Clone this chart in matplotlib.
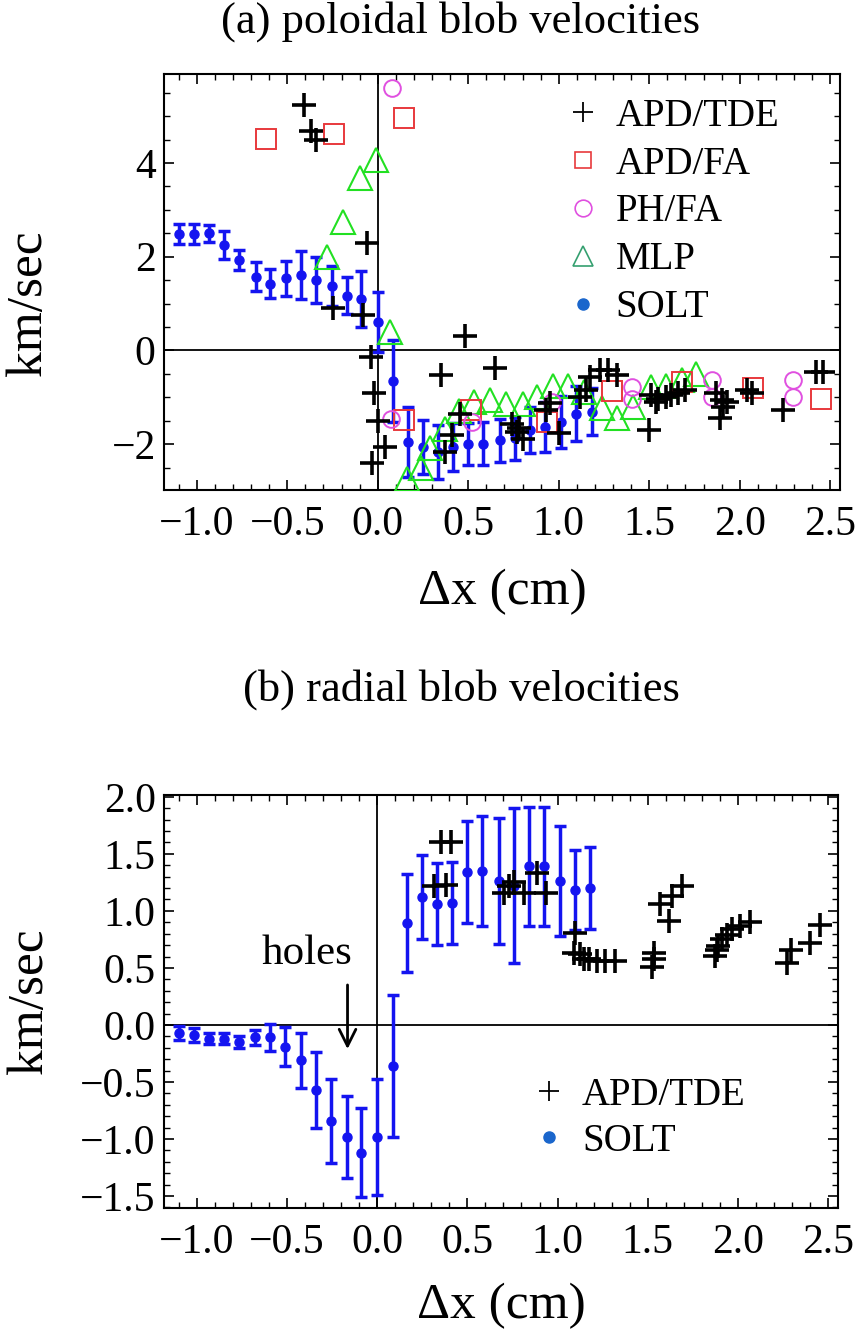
import numpy as np
import matplotlib
matplotlib.use("Agg")
import matplotlib.pyplot as plt
from matplotlib.lines import Line2D
from matplotlib.ticker import MultipleLocator

plt.rcParams['font.family'] = ['Liberation Serif', 'DejaVu Serif']

# SOLT simulation points (same radial grid in both panels)
solt_x = [-1.097, -1.016, -0.931, -0.848, -0.766, -0.674, -0.593, -0.508, -0.422,
          -0.340, -0.254, -0.168, -0.090, 0.002, 0.086, 0.167, 0.249, 0.332,
          0.416, 0.498, 0.583, 0.674, 0.758, 0.841, 0.924, 1.012, 1.097, 1.182]
solt_vpol = [2.49, 2.49, 2.50, 2.25, 1.93, 1.57, 1.42, 1.54, 1.61, 1.50, 1.38, 1.17,
             1.09, 0.61, -0.65, -1.96, -2.06, -2.17, -2.06, -1.99, -1.99, -1.92,
             -1.88, -1.70, -1.63, -1.53, -1.35, -1.31]
solt_vpol_err = [0.21, 0.21, 0.18, 0.30, 0.22, 0.31, 0.31, 0.37, 0.52, 0.49, 0.43,
                 0.40, 0.60, 0.64, 0.87, 0.75, 0.57, 0.57, 0.52, 0.45, 0.46, 0.46,
                 0.46, 0.50, 0.53, 0.55, 0.59, 0.50]
solt_vrad = [-0.07, -0.09, -0.12, -0.12, -0.15, -0.11, -0.11, -0.19, -0.31, -0.57,
             -0.84, -0.98, -1.12, -0.98, -0.36, 0.89, 1.12, 1.06, 1.07, 1.34, 1.35,
             1.26, 1.22, 1.39, 1.39, 1.26, 1.18, 1.20]
solt_vrad_err = [0.06, 0.06, 0.05, 0.05, 0.05, 0.07, 0.12, 0.17, 0.24, 0.33, 0.37,
                 0.36, 0.39, 0.51, 0.62, 0.43, 0.37, 0.36, 0.36, 0.45, 0.48, 0.55,
                 0.68, 0.52, 0.52, 0.48, 0.35, 0.36]

# (a) poloidal: APD/TDE
tde_pol_x = [-0.41, -0.37, -0.34, -0.25, -0.06, -0.08, -0.04, -0.02, 0.00, 0.04, -0.03,
             0.48, 0.35, 0.65, 0.455, 0.41, 0.37,
             0.74, 0.77, 0.80, 0.78, 0.95, 1.00, 0.93,
             1.12, 1.15, 1.17, 1.23, 1.27, 1.32,
             1.50, 1.51, 1.55, 1.59, 1.62, 1.66, 1.70, 1.54,
             1.87, 1.90, 1.91, 1.89, 1.93, 2.04, 2.07, 2.24, 2.42, 2.46]
tde_pol_y = [5.23, 4.69, 4.49, 0.90, 2.30, 0.75, -0.14, -0.91, -1.50, -2.06, -2.41,
             0.31, -0.52, -0.38, -1.35, -1.81, -2.17,
             -1.58, -1.75, -1.90, -1.65, -1.13, -1.77, -1.28,
             -0.99, -0.85, -0.56, -0.42, -0.42, -0.53,
             -1.70, -0.96, -1.03, -0.99, -0.96, -0.92, -0.85, -1.10,
             -0.92, -1.06, -1.20, -1.45, -1.10, -0.85, -0.92, -1.28, -0.46, -0.46]

# (a) poloidal: APD/FA
fa_x = [-0.62, -0.24, 0.145, 0.145, 0.517, 0.934, 1.294, 1.68, 2.075, 2.45]
fa_y = [4.51, 4.62, 4.96, -1.49, -1.28, -1.53, -0.87, -0.67, -0.80, -1.03]

# (a) poloidal: PH/FA
ph_x = [0.077, 0.075, 0.519, 0.965, 1.403, 1.403, 1.845, 1.845, 2.296, 2.296]
ph_y = [5.60, -1.47, -1.52, -1.11, -0.78, -1.03, -0.63, -0.99, -0.63, -0.99]

# (a) poloidal: MLP
mlp_x = [-0.28, -0.19, -0.10, -0.01, 0.07, 0.16, 0.24, 0.29, 0.37, 0.45, 0.53, 0.62,
         0.71, 0.80, 0.88, 0.97, 1.05, 1.14, 1.24, 1.32, 1.41, 1.51, 1.59, 1.68, 1.76]
mlp_y = [2.00, 2.75, 3.67, 4.07, 0.40, -2.75, -2.50, -2.09, -1.67, -1.30, -1.10, -1.06,
         -1.15, -1.15, -1.00, -0.76, -0.76, -0.88, -1.24, -1.44, -1.20, -0.78, -0.76,
         -0.63, -0.51]

# (b) radial: APD/TDE
tde_rad_x = [0.353, 0.409, 0.317, 0.381,
             0.703, 0.731, 0.759, 0.814, 0.887, 0.934,
             1.099, 1.090, 1.127, 1.145, 1.173, 1.220, 1.265, 1.320,
             1.532, 1.532, 1.523, 1.569, 1.633, 1.688, 1.615,
             1.873, 1.882, 1.891, 1.909, 1.940, 1.965, 2.011, 2.066,
             2.269, 2.296, 2.398, 2.453]
tde_rad_y = [1.60, 1.60, 1.22, 1.23,
             1.16, 1.22, 1.25, 1.16, 1.33, 1.16,
             0.81, 0.63, 0.62, 0.58, 0.58, 0.56, 0.56, 0.56,
             0.63, 0.58, 0.51, 1.06, 1.13, 1.22, 0.91,
             0.605, 0.66, 0.69, 0.75, 0.79, 0.84, 0.87, 0.905,
             0.54, 0.66, 0.72, 0.875]

BLUE = '#1414f0'
RED = '#e8393c'
MAG = '#e050e0'
GREEN = '#22e022'


def style_axes(ax, ymajor, yminor):
    ax.set_xlim(-1.181, 2.554)
    ax.xaxis.set_major_locator(MultipleLocator(0.5))
    ax.xaxis.set_minor_locator(MultipleLocator(0.1))
    ax.yaxis.set_major_locator(MultipleLocator(ymajor))
    ax.yaxis.set_minor_locator(MultipleLocator(yminor))
    ax.tick_params(which='both', direction='in', top=True, right=True, labelsize=30)
    ax.tick_params(which='major', length=7, width=1.2)
    ax.tick_params(which='minor', length=4, width=1.0)
    ax.tick_params(axis='x', pad=11)
    ax.tick_params(axis='y', pad=6)
    for sp in ax.spines.values():
        sp.set_linewidth(1.5)
    ax.axhline(0, color='k', lw=1.3, zorder=1)
    ax.axvline(0, color='k', lw=1.3, zorder=1)
    ax.set_xlabel('\u0394x (cm)', fontsize=37)
    ax.set_ylabel('km/sec', fontsize=37)


def solt_errorbar(ax, y, err):
    ax.errorbar(solt_x, y, yerr=err, fmt='o', color=BLUE, ms=6.5, elinewidth=2.5,
                capsize=4, capthick=2.5, zorder=2)


fig = plt.figure(figsize=(8.56, 13.35), dpi=100)

# ---- (a) poloidal blob velocities
ax1 = fig.add_axes([164 / 856, 1 - 490 / 1335, 676 / 856, 416 / 1335])
solt_errorbar(ax1, solt_vpol, solt_vpol_err)
ax1.plot(mlp_x, mlp_y, ls='none', marker='^', ms=17, mfc='none', mec=GREEN, mew=1.5, zorder=3)
ax1.plot(fa_x, fa_y, ls='none', marker='s', ms=14, mfc='none', mec=RED, mew=1.4, zorder=3)
ax1.plot(ph_x, ph_y, ls='none', marker='o', ms=12, mfc='none', mec=MAG, mew=1.4, zorder=3)
ax1.plot(tde_pol_x, tde_pol_y, ls='none', marker='+', ms=17, color='k', mew=2.6, zorder=4)
ax1.set_ylim(-2.98, 5.90)
style_axes(ax1, 2, 0.5)
ax1.xaxis.set_label_coords(0.5, -0.19)
ax1.yaxis.set_label_coords(-0.165, 0.45)

handles_a = [
    Line2D([], [], ls='none', marker='+', color='k', ms=15, mew=1.3),
    Line2D([], [], ls='none', marker='s', mfc='none', mec=RED, ms=12, mew=1.2),
    Line2D([], [], ls='none', marker='o', mfc='none', mec=MAG, ms=12, mew=1.2),
    Line2D([], [], ls='none', marker='^', mfc='none', mec='#35a070', ms=14, mew=1.2),
    Line2D([], [], ls='none', marker='o', color='#1a66cc', ms=8),
]
ax1.legend(handles_a, ['APD/TDE', 'APD/FA', 'PH/FA', 'MLP', 'SOLT'], loc='upper left',
           bbox_to_anchor=(0.595, 0.943), frameon=False, fontsize=28, borderpad=0,
           borderaxespad=0, handlelength=0.85, handletextpad=0.42, labelspacing=0.28)

# ---- (b) radial blob velocities
ax2 = fig.add_axes([164 / 856, 1 - 1208 / 1335, 674 / 856, 413 / 1335])
solt_errorbar(ax2, solt_vrad, solt_vrad_err)
ax2.plot(tde_rad_x, tde_rad_y, ls='none', marker='+', ms=17, color='k', mew=2.6, zorder=4)
ax2.set_ylim(-1.605, 2.016)
style_axes(ax2, 0.5, 0.1)
ax2.xaxis.set_label_coords(0.5, -0.18)
ax2.yaxis.set_label_coords(-0.165, 0.5)

ax2.text(-0.39, 0.62, 'holes', fontsize=31, ha='center', va='center')
ax2.annotate('', xy=(-0.164, -0.236), xytext=(-0.164, 0.375),
             arrowprops=dict(arrowstyle='->', lw=2, color='k', mutation_scale=30))

handles_b = [
    Line2D([], [], ls='none', marker='+', color='k', ms=15, mew=1.3),
    Line2D([], [], ls='none', marker='o', color='#1a66cc', ms=8),
]
ax2.legend(handles_b, ['APD/TDE', 'SOLT'], loc='upper left',
           bbox_to_anchor=(0.547, 0.318), frameon=False, fontsize=28, borderpad=0,
           borderaxespad=0, handlelength=0.85, handletextpad=0.42, labelspacing=0.23)

fig.text(461 / 856, 1 - 22 / 1335, '(a) poloidal blob velocities', fontsize=32,
         ha='center', va='center')
fig.text(461 / 856, 1 - 690 / 1335, '(b) radial blob velocities', fontsize=32,
         ha='center', va='center')

fig.savefig('out.png', dpi=100)
